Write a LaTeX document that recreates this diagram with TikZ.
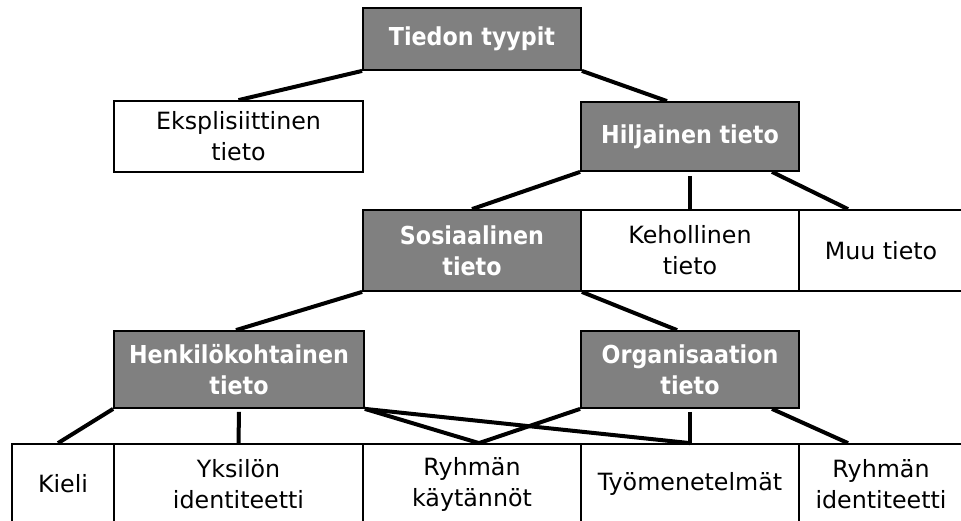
\documentclass[tikz,border=0pt]{standalone}
\usepackage{fontspec}
\setmainfont{DejaVu Sans}
\newfontfamily\cbfont{DejaVu Sans Condensed}
\usetikzlibrary{calc}
\definecolor{boxgray}{RGB}{128,128,128}
\begin{document}
\begin{tikzpicture}[x=1pt,y=-1pt,
  box/.style={draw=black, line width=1.8pt, inner sep=0pt, align=center,
    font=\fontsize{23.75}{31}\selectfont, text=black, fill=white},
  darkbox/.style={box, fill=boxgray, text=white,
    font=\cbfont\bfseries\fontsize{24.7}{31}\selectfont},
  link/.style={draw=black, line width=4pt}]
\useasboundingbox (0,0) rectangle (961,520);

% level 1
\node[darkbox, minimum width=218pt, minimum height=62pt] (top) at (472,39) {Tiedon tyypit};
% level 2
\node[box, minimum width=249pt, minimum height=71pt] (eks) at (238.5,136.5) {Eksplisiittinen\\tieto};
\node[darkbox, minimum width=218pt, minimum height=69pt] (hil) at (690,136.5) {Hiljainen tieto};
% level 3
\node[darkbox, minimum width=218pt, minimum height=81pt] (sos) at (472,250.5) {Sosiaalinen\\tieto};
\node[box, minimum width=218pt, minimum height=81pt] (keh) at (690,250.5) {Kehollinen\\tieto};
\node[box, minimum width=164pt, minimum height=81pt] (muu) at (881,250.5) {Muu tieto};
% level 4
\node[darkbox, minimum width=250pt, minimum height=77pt] (henk) at (239,369.5) {Henkilökohtainen\\tieto};
\node[darkbox, minimum width=218pt, minimum height=77pt] (org) at (690,369.5) {Organisaation\\tieto};
% level 5
\node[box, minimum width=102pt, minimum height=80pt] (kieli) at (63,484) {Kieli};
\node[box, minimum width=249pt, minimum height=80pt] (yks) at (238.5,484) {Yksilön\\identiteetti};
\node[box, minimum width=218pt, minimum height=80pt] (rk) at (472,484) {Ryhmän\\käytännöt};
\node[box, minimum width=218pt, minimum height=80pt] (tyo) at (690,484) {Työmenetelmät};
\node[box, minimum width=164pt, minimum height=80pt] (ri) at (881,484) {Ryhmän\\identiteetti};

% connectors
\draw[link] (top.south west) -- (eks.north);
\draw[link] (top.south east) -- ([xshift=-23pt]hil.north);
\draw[link] (hil.south west) -- (sos.north);
\draw[link] ([yshift=-4pt]hil.south) -- (keh.north);
\draw[link] ([xshift=82pt]hil.south) -- ([xshift=-33pt]muu.north);
\draw[link] (sos.south west) -- ([xshift=-3pt]henk.north);
\draw[link] (sos.south east) -- ([xshift=-13pt]org.north);
\draw[link] (henk.south west) -- ([xshift=-5pt]kieli.north);
\draw[link] ([yshift=-3pt]henk.south) -- (yks.north);
\draw[link] (henk.south east) -- ([xshift=7pt]rk.north);
\draw[link] (henk.south east) -- (tyo.north);
\draw[link] (org.south west) -- ([xshift=7pt]rk.north);
\draw[link] ([yshift=-3pt]org.south) -- (tyo.north);
\draw[link] ([xshift=82pt]org.south) -- ([xshift=-33pt]ri.north);
\end{tikzpicture}
\end{document}
